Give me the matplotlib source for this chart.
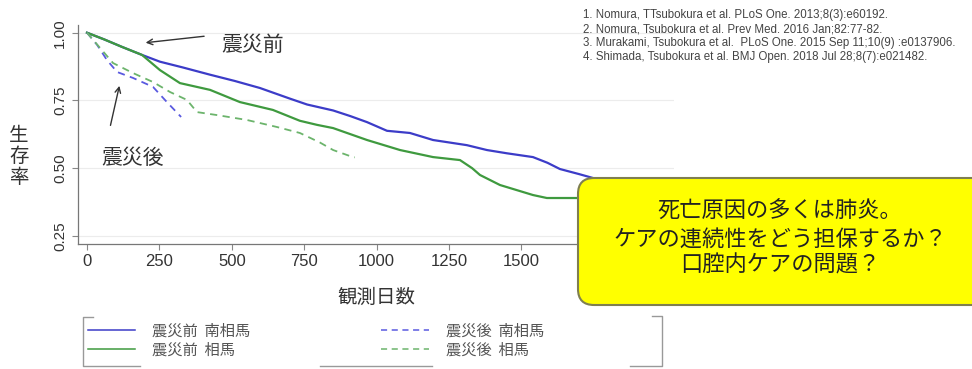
import matplotlib
matplotlib.use('Agg')
import matplotlib.pyplot as plt
from matplotlib.patches import FancyBboxPatch
from matplotlib.lines import Line2D

plt.rcParams['font.family'] = ['Noto Sans CJK JP', 'DejaVu Sans']

# ---- データ (Kaplan-Meier 生存曲線, 目視読み取り) ----
days_pre_minami = [0, 60, 120, 190, 252, 330, 425, 510, 597, 700, 760, 850, 910,
                   967, 1036, 1115, 1195, 1312, 1381, 1450, 1540, 1590, 1633, 1700, 1760]
surv_pre_minami = [1.0, 0.975, 0.948, 0.918, 0.893, 0.872, 0.845, 0.822, 0.796, 0.757,
                   0.735, 0.713, 0.692, 0.67, 0.638, 0.630, 0.604, 0.585, 0.567, 0.555,
                   0.541, 0.52, 0.497, 0.478, 0.46]

days_pre_soma = [0, 60, 120, 190, 252, 321, 425, 528, 642, 735, 794, 850, 967, 1081,
                 1195, 1288, 1330, 1357, 1426, 1540, 1588, 1695]
surv_pre_soma = [1.0, 0.975, 0.948, 0.918, 0.862, 0.814, 0.789, 0.744, 0.715, 0.675,
                 0.66, 0.648, 0.604, 0.567, 0.541, 0.530, 0.50, 0.475, 0.438, 0.401,
                 0.390, 0.390]

days_post_minami = [0, 35, 69, 104, 159, 228, 276, 325]
surv_post_minami = [1.0, 0.955, 0.899, 0.855, 0.833, 0.80, 0.744, 0.689]

days_post_soma = [0, 45, 90, 159, 228, 287, 345, 380, 449, 552, 656, 735, 804, 850, 918, 925]
surv_post_soma = [1.0, 0.944, 0.888, 0.851, 0.818, 0.781, 0.752, 0.707, 0.696, 0.678,
                  0.652, 0.63, 0.595, 0.567, 0.541, 0.54]

labels = ['震災前  南相馬', '震災前  相馬', '震災後  南相馬', '震災後  相馬']
xticks = [0, 250, 500, 750, 1000, 1250, 1500, 1750]
yticks = [0.25, 0.50, 0.75, 1.00]

refs = [
    '1. Nomura, TTsubokura et al. PLoS One. 2013;8(3):e60192.',
    '2. Nomura, Tsubokura et al. Prev Med. 2016 Jan;82:77-82.',
    '3. Murakami, Tsubokura et al.  PLoS One. 2015 Sep 11;10(9) :e0137906.',
    '4. Shimada, Tsubokura et al. BMJ Open. 2018 Jul 28;8(7):e021482.',
]
box_lines = ['死亡原因の多くは肺炎。', 'ケアの連続性をどう担保するか？', '口腔内ケアの問題？']

BLUE = '#3c3cc8'
GREEN = '#3f9a3f'
BLUE_D = '#5a5ae0'
GREEN_D = '#6cb46c'

W, H = 972, 369
fig = plt.figure(figsize=(W / 100, H / 100), dpi=100)
fig.patch.set_facecolor('white')

# 軸の位置 (ピクセル基準)
left, right, top, bottom = 78, 674, 25, 244
ax = fig.add_axes([left / W, 1 - bottom / H, (right - left) / W, (bottom - top) / H])

l1, = ax.plot(days_pre_minami, surv_pre_minami, color=BLUE, lw=1.6)
l2, = ax.plot(days_pre_soma, surv_pre_soma, color=GREEN, lw=1.6)
l3, = ax.plot(days_post_minami, surv_post_minami, color=BLUE_D, lw=1.3, ls=(0, (4, 3)))
l4, = ax.plot(days_post_soma, surv_post_soma, color=GREEN_D, lw=1.3, ls=(0, (4, 3)))

ax.set_xlim(-31, 2027)
ax.set_ylim(0.2203, 1.0284)
ax.set_xticks(xticks)
ax.set_yticks(yticks)
ax.set_yticklabels([f'{v:.2f}' for v in yticks], rotation=90, va='center',
                   family='Liberation Sans', fontsize=11, color='#333333')
ax.set_xticklabels([str(v) for v in xticks], family='Liberation Sans',
                   fontsize=12, color='#333333')
ax.tick_params(axis='both', length=4, color='#888888', pad=3)
ax.tick_params(axis='y', pad=4)
ax.grid(axis='y', color='#ececec', lw=0.8)
ax.set_axisbelow(True)
for s in ['top', 'right']:
    ax.spines[s].set_visible(False)
for s in ['left', 'bottom']:
    ax.spines[s].set_color('#777777')
    ax.spines[s].set_linewidth(0.9)

# 注釈 (矢印)
ax.annotate('', xy=(193, 0.962), xytext=(414, 0.988),
            arrowprops=dict(arrowstyle='->', color='#333333', lw=1.0))
ax.text(573, 0.955, '震災前', fontsize=15, ha='center', va='center', color='#333333')
ax.annotate('', xy=(114, 0.814), xytext=(79, 0.648),
            arrowprops=dict(arrowstyle='->', color='#333333', lw=1.0))
ax.text(156, 0.537, '震災後', fontsize=15, ha='center', va='center', color='#333333')

# 軸ラベル
fig.text(19 / W, 1 - 156 / H, '生\n存\n率', fontsize=14, ha='center', va='center',
         linespacing=1.0, color='#333333')
fig.text(376 / W, 1 - 297 / H, '観測日数', fontsize=14, ha='center', va='center',
         color='#333333')

# 凡例
leg = fig.legend([l1, l2, l3, l4], labels, ncol=2, loc='upper left',
                 bbox_to_anchor=(80 / W, 1 - 315 / H), frameon=False, fontsize=11,
                 handlelength=3.1, handletextpad=1.1, columnspacing=8.6,
                 labelspacing=0.1, borderpad=0, labelcolor='#555555')
for ln in leg.get_lines():
    ln.set_linewidth(1.1)

# オーバーレイ (ピクセル座標)
ov = fig.add_axes([0, 0, 1, 1], zorder=10)
ov.set_xlim(0, W)
ov.set_ylim(H, 0)
ov.axis('off')
ov.patch.set_alpha(0)

# 凡例の枠 (括弧状)
bc = '#999999'
ov.add_line(Line2D([93, 83, 83, 140], [317, 317, 366, 366], color=bc, lw=1.0))
ov.add_line(Line2D([652, 662, 662, 630], [316, 316, 366, 366], color=bc, lw=1.0))
ov.add_line(Line2D([320, 432], [366, 366], color=bc, lw=1.0))

# 参考文献
for i, r in enumerate(refs):
    ov.text(583, 15 + 14 * i, r, fontsize=8.3, family='Liberation Sans',
            color='#444444', ha='left', va='center')

# 黄色の吹き出し
box = FancyBboxPatch((578, 178), 430, 127, boxstyle='round,pad=0,rounding_size=16',
                     fc='#ffff00', ec='#7f7f50', lw=1.5)
ov.add_patch(box)
for y, t in zip([211, 239, 265], box_lines):
    ov.text(780, y, t, fontsize=16, ha='center', va='center', color='#222222')

fig.savefig('out.png', dpi=100)
